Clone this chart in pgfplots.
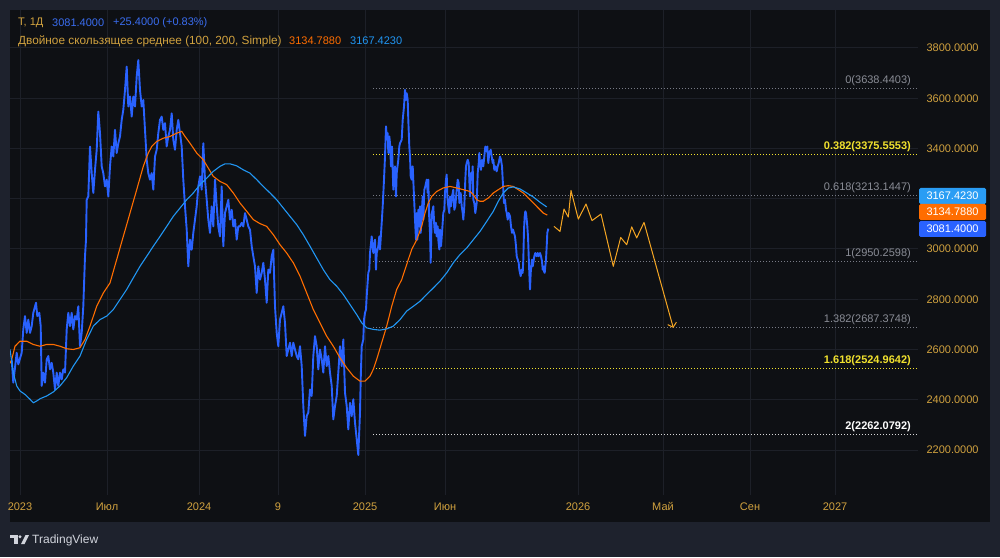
\documentclass[border=0pt]{standalone}
\usepackage{pgfplots}
\pgfplotsset{compat=1.18}
\usepackage{fontspec}
\setmainfont{Liberation Sans}
\usetikzlibrary{arrows.meta}
\definecolor{outerbg}{HTML}{1E222D}
\definecolor{panelbg}{HTML}{0E1014}
\definecolor{gridc}{HTML}{1D2028}
\definecolor{gold}{HTML}{D1A23F}
\definecolor{hdrblue}{HTML}{3A6DF0}
\definecolor{tvblue}{HTML}{2962FF}
\definecolor{maone}{HTML}{FF6D00}
\definecolor{matwo}{HTML}{2196F3}
\definecolor{tagblue}{HTML}{2A9DF4}
\definecolor{fc}{HTML}{F5A623}
\definecolor{fibgrey}{HTML}{8A8D96}
\definecolor{fibline}{HTML}{787B86}
\definecolor{fibyel}{HTML}{F2E22E}
\definecolor{logoc}{HTML}{D1D4DC}
\newcommand{\fsz}{\fontsize{11}{13}\selectfont}

\begin{document}
\begin{tikzpicture}
\useasboundingbox (0pt,0pt) rectangle (1000pt,557pt);
\fill[outerbg] (0pt,0pt) rectangle (1000pt,557pt);
\fill[panelbg] (10pt,35pt) rectangle (990pt,547pt);
\begin{axis}[
  at={(10pt,62pt)}, anchor=south west,
  scale only axis, width=908pt, height=485pt,
  xmin=10, xmax=918, ymin=2020.9, ymax=3951.2,
  axis line style={draw=none}, major tick length=0pt,
  grid=major, major grid style={gridc, line width=1pt},
  xtick={20,107,199,278,365,445,578,663,750,835},
  xticklabels={2023,Июл,2024,9,2025,Июн,2026,Май,Сен,2027},
  xticklabel style={font=\fsz, text=gold, yshift=-4pt},
  ytick={2200,2400,2600,2800,3000,3400,3600,3800},
  extra y ticks={3200}, extra y tick labels={},
  extra y tick style={grid=major, major grid style={gridc, line width=1pt}},
  yticklabel pos=right, scaled y ticks=false,
  yticklabel style={font=\fsz, text=gold, anchor=west, xshift=5pt,
    /pgf/number format/fixed, /pgf/number format/fixed zerofill,
    /pgf/number format/precision=4, /pgf/number format/1000 sep={},
    /pgf/number format/assume math mode=true},
]
% Fibonacci levels
\addplot[fibline, line width=1pt, dash pattern=on 1pt off 2pt] coordinates {(373,3638.4403) (918,3638.4403)};
\addplot[fibyel, line width=1pt, dash pattern=on 1pt off 2pt] coordinates {(373,3375.5553) (918,3375.5553)};
\addplot[fibline, line width=1pt, dash pattern=on 1pt off 2pt] coordinates {(373,3213.1447) (918,3213.1447)};
\addplot[fibline, line width=1pt, dash pattern=on 1pt off 2pt] coordinates {(373,2950.2598) (918,2950.2598)};
\addplot[fibline, line width=1pt, dash pattern=on 1pt off 2pt] coordinates {(373,2687.3748) (918,2687.3748)};
\addplot[fibyel, line width=1pt, dash pattern=on 1pt off 2pt] coordinates {(373,2524.9642) (918,2524.9642)};
\addplot[white!85!black, line width=1pt, dash pattern=on 1pt off 2pt] coordinates {(373,2262.0792) (918,2262.0792)};
% price
\addplot[tvblue, line width=1.9pt, line join=round] coordinates {
(11.7,2560)(13.3,2468)(16.7,2587)(18.3,2541)(21.7,2587)(23.3,2680)(25,2733)(26.7,2666)(28.3,2719)(30,2666)(31.7,2693)(33.3,2746)(36,2786)(37.3,2733)(39.3,2746)(40.7,2693)(41.7,2455)(43.3,2508)(45,2468)(46.7,2560)(48.3,2574)(50,2521)(51.7,2547)(53.3,2508)(55,2441)(56.7,2508)(58.3,2455)(60,2508)(61.7,2481)(63.3,2521)(65,2508)(66.7,2680)(68.3,2746)(70,2693)(71.7,2746)(73.3,2680)(75,2733)(76.7,2719)(78.3,2772)(80,2613)(81.7,2666)(83.3,2772)(85,2971)(86,3037)(86.7,3196)(88.3,3209)(90,3408)(91.7,3302)(93.3,3223)(95,3315)(96.7,3395)(98.3,3547)(100,3461)(101.7,3329)(103.3,3302)(105,3249)(106.7,3276)(108.3,3209)(110,3329)(111.7,3408)(113.3,3368)(115,3474)(116.7,3382)(118.3,3421)(120,3448)(121.7,3514)(123.3,3554)(125,3633)(126.7,3726)(128.3,3567)(130,3607)(131.7,3527)(133.3,3607)(135,3567)(136.7,3686)(138.3,3752)(140,3633)(141.7,3567)(143.3,3593)(145,3474)(146.7,3355)(148.3,3302)(150,3276)(151.7,3302)(153.3,3236)(155,3368)(156.7,3395)(158.3,3461)(160,3514)(161.7,3527)(163.3,3474)(165,3501)(166.7,3408)(168.3,3448)(170,3474)(171.7,3540)(173.3,3435)(175,3395)(176.7,3474)(178.3,3514)(180,3461)(181.7,3408)(183.3,3276)(185,3170)(186.7,3077)(188.3,2931)(190,3037)(191.7,2997)(193.3,3064)(195,3117)(196.7,3170)(198.3,3249)(200,3289)(201.7,3236)(203.3,3421)(205,3276)(206.7,3196)(208.3,3117)(210,3064)(211.7,3170)(213.3,3090)(215,3276)(216.7,3170)(218.3,3090)(220,3050)(221.7,3249)(223.3,3011)(225,3143)(226.7,3170)(228.3,3196)(230,3117)(231.7,3156)(233.3,3090)(235,3117)(236.7,3037)(238.3,3090)(240,3090)(241.7,3104)(243.3,3090)(245,3143)(246.7,3117)(248.3,3090)(250,3077)(251.7,3011)(253.3,2971)(255,2931)(256.7,2825)(258.3,2931)(260,2878)(261.7,2905)(263.3,2945)(265,2878)(266.7,2786)(268.3,2918)(270,2905)(271.7,2971)(273.3,2997)(275,2772)(276.7,2666)(278.3,2613)(280,2719)(281.7,2746)(283.3,2772)(285,2706)(286.7,2574)(288.3,2600)(290,2627)(291.7,2574)(293.3,2627)(295,2600)(296.7,2574)(298.3,2561)(300,2613)(301.7,2534)(303.3,2375)(305,2256)(306.7,2335)(308.3,2349)(310,2441)(311.7,2415)(313.3,2574)(315,2653)(316.7,2613)(318.3,2521)(320,2600)(321.7,2561)(323.3,2508)(325,2613)(326.7,2534)(328.3,2574)(330,2508)(331.7,2455)(333.3,2322)(335,2375)(336.7,2415)(338.3,2508)(340,2613)(341.7,2534)(343.3,2640)(345,2428)(346.7,2375)(348.3,2282)(350,2388)(351.7,2335)(353.3,2402)(355,2309)(356.7,2243)(358.3,2180)(360,2349)(360.7,2481)(361.7,2613)(363.3,2640)(364,2719)(365,2746)(366,2759)(366.7,2812)(368.3,2905)(369.3,2918)(370,2984)(371.7,3050)(373.3,2984)(375,3037)(376,2918)(376.7,2984)
(378.3,3011)(379.3,3050)(380,2998)(381.7,3104)(382.7,3170)(384,3276)(385,3368)(386,3488)(386.7,3448)(387.7,3461)(388.3,3382)(389.3,3448)(390,3421)(391,3329)(392,3408)(393.3,3236)(395,3329)(396,3209)(396.7,3302)(398.3,3355)(399.3,3408)(400,3421)(401.7,3435)(402.7,3514)(404,3567)(405,3633)(406,3593)(406.7,3620)(407.7,3593)(408.3,3514)(409.3,3408)(410,3368)(410.7,3289)(411.7,3276)(412.7,3329)(414,3209)(415,3117)(416,3037)(416.7,3143)(417.3,3037)(418.3,3156)(419.3,3090)(420,3170)(420.7,3064)(421.7,3143)(422.7,3209)(423.3,3117)(424.3,3236)(425.3,3249)(426.7,3276)(427.7,3223)(428.3,3276)(429,3143)(430,3064)(430.7,2945)(431.7,3143)(432.7,3156)(433.3,3170)(434.3,3090)(435,3064)(436,3104)(436.7,3050)(437.7,3090)(438.3,3037)(439.3,2998)(440,3077)(441,3011)(442,3064)(443.3,3143)(444.3,3156)(445,3223)(446,3276)(446.7,3296)(447.3,3209)(448.3,3170)(449.3,3143)(450,3209)(451,3170)(452,3209)(453.3,3236)(454.3,3156)(455.3,3170)(456.7,3236)(457.7,3276)(458.7,3262)(459.3,3183)(460.7,3223)(461.7,3170)(462.7,3143)(463.3,3117)(464.3,3170)(465.3,3276)(466,3329)(466.7,3342)(467.7,3355)(468.7,3342)(469.3,3276)(470,3209)(471,3302)(472,3276)(472.7,3329)(473.3,3196)(474.3,3183)(475.3,3143)(476.7,3183)(477.7,3302)(478.7,3342)(479.3,3382)(480,3342)(481,3315)(482,3355)(483.3,3329)(484.3,3368)(485.3,3408)(486,3395)(486.7,3388)(487.3,3408)(488.3,3342)(489.3,3382)(490.7,3395)(491.7,3368)(492.7,3342)(493.3,3355)(494.3,3315)(495.3,3329)(496.7,3309)(497.7,3329)(498.7,3342)(500,3368)(501,3355)(502,3329)(502.7,3276)(503.3,3236)(504,3183)(505,3196)(506,3156)(506.7,3143)(507.7,3117)(508.7,3143)(510,3130)(511,3090)(512,3064)(513,3077)(514,3064)(515,3050)(516,3011)(516.7,2971)(517.7,2958)(518.7,2945)(519.3,2918)(520,2905)(520.7,2892)(521.7,2918)(522.7,2905)(523.3,2958)(524,3077)(524.7,3130)(525.3,3150)(526,3143)(526.7,3117)(527.3,3090)(528,3050)(528.7,2971)(529.3,2905)(530,2839)(530.7,2905)(531.3,2931)(532,2958)(532.7,2931)(533.3,2945)(534.3,2971)(535.3,2984)(536.7,2971)(537.7,2984)(538.7,2971)(540,2984)(541,2971)(542,2951)(542.7,2918)(543.3,2931)(544,2911)(544.7,2905)(545.3,2931)(546,2958)(546.7,3011)(547.3,3064)(548.3,3081)
};
% MA 100
\addplot[maone, line width=1.1pt] coordinates {
(10,2545)(11.7,2560)(15,2613)(20,2633)(26.7,2633)(33.3,2620)(40,2613)(46.7,2620)(53.3,2620)(60,2613)(66.7,2603)(73.3,2600)(80,2607)(85,2640)(90,2693)(96.7,2772)(103.3,2825)(110,2865)(116.7,2958)(123.3,3050)(130,3143)(136.7,3236)(143.3,3329)(148.3,3382)(151.7,3408)(156.7,3428)(163.3,3441)(170,3448)(176.7,3461)(181.7,3468)(185,3448)(190,3421)(196.7,3382)(203.3,3355)(208.3,3322)(213.3,3289)(220,3269)(226.7,3256)(233.3,3223)(240,3183)(246.7,3150)(253.3,3117)(260,3101)(266.7,3090)(273.3,3057)(280,3017)(286.7,2984)(293.3,2945)(300,2892)(306.7,2825)(313.3,2759)(320,2706)(326.7,2653)(333.3,2613)(340,2567)(346.7,2527)(353.3,2494)(360,2474)(365,2474)(370,2494)(373.3,2521)(376.7,2561)(381.7,2627)(386.7,2693)(391.7,2772)(396.7,2839)(401.7,2878)(405,2918)(408.3,2958)(411.7,2998)(416.7,3037)(421.7,3090)(425,3143)(428.3,3183)(431.7,3209)(436.7,3229)(443.3,3243)(450,3249)(456.7,3243)(463.3,3236)(470,3229)(473.3,3216)(476.7,3196)(480,3190)(483.3,3190)(488.3,3203)(493.3,3223)(498.3,3236)(503.3,3249)(508.3,3252)(513.3,3249)(518.3,3236)(523.3,3223)(528.3,3203)(533.3,3183)(538.3,3163)(543.3,3143)(547.3,3134.8)
};
% MA 200
\addplot[matwo, line width=1.1pt] coordinates {
(10,2600)(13.3,2508)(16.7,2455)(20,2435)(25,2421)(30,2402)(33.3,2388)(36.7,2395)(40,2404)(46.7,2415)(53.3,2431)(60,2455)(66.7,2488)(73.3,2534)(80,2574)(86.7,2640)(93.3,2693)(100,2719)(106.7,2733)(113.3,2759)(120,2799)(126.7,2839)(133.3,2885)(140,2931)(146.7,2971)(153.3,3011)(160,3050)(166.7,3090)(173.3,3130)(180,3163)(186.7,3196)(193.3,3223)(200,3256)(206.7,3282)(213.3,3309)(220,3329)(225,3339)(230,3339)(236.7,3331)(243.3,3315)(250,3302)(256.7,3276)(263.3,3249)(270,3223)(276.7,3196)(283.3,3163)(290,3130)(296.7,3097)(303.3,3057)(310,3011)(316.7,2964)(323.3,2918)(330,2878)(336.7,2852)(343.3,2819)(350,2779)(356.7,2739)(361.7,2706)(366.7,2686)(373.3,2680)(380,2677)(386.7,2682)(393.3,2693)(400,2719)(406.7,2753)(413.3,2772)(420,2792)(426.7,2819)(433.3,2845)(440,2872)(446.7,2905)(453.3,2945)(460,2978)(466.7,3004)(473.3,3037)(480,3070)(486.7,3110)(493.3,3150)(498.3,3190)(503.3,3223)(508.3,3243)(513.3,3247)(520,3239)(526.7,3223)(533.3,3207)(540,3186)(546.7,3167.4)
};
% forecast path
\addplot[fc, line width=1pt, line join=round, -{Straight Barb[length=4pt,width=9pt]}] coordinates {
(554,3090)(560,3070)(564,3159)(568.3,3127)(571,3233)(578.3,3119)(586,3179)(592,3113)(601,3139)(613.3,2931)(620.7,3046)(626.7,3017)(631.7,3088)(636.7,3044)(644,3106)(673.3,2686)
};
% Fibonacci labels
\node[anchor=base east, text=fibgrey, font=\fsz, yshift=5pt, inner sep=0pt] at (axis cs:911,3638.4403) {0(3638.4403)};
\node[anchor=base east, text=fibyel, font=\fsz\bfseries, yshift=5pt, inner sep=0pt] at (axis cs:911,3375.5553) {0.382(3375.5553)};
\node[anchor=base east, text=fibgrey, font=\fsz, yshift=5pt, inner sep=0pt] at (axis cs:911,3213.1447) {0.618(3213.1447)};
\node[anchor=base east, text=fibgrey, font=\fsz, yshift=5pt, inner sep=0pt] at (axis cs:911,2950.2598) {1(2950.2598)};
\node[anchor=base east, text=fibgrey, font=\fsz, yshift=5pt, inner sep=0pt] at (axis cs:911,2687.3748) {1.382(2687.3748)};
\node[anchor=base east, text=fibyel, font=\fsz\bfseries, yshift=5pt, inner sep=0pt] at (axis cs:911,2524.9642) {1.618(2524.9642)};
\node[anchor=base east, text=white, font=\fsz\bfseries, yshift=5pt, inner sep=0pt] at (axis cs:911,2262.0792) {2(2262.0792)};
\end{axis}
% price tags
\fill[tagblue, rounded corners=1.5pt] (919pt,353pt) rectangle (986pt,369pt);
\node[text=white, font=\fsz] at (952.5pt,361pt) {3167.4230};
\fill[maone, rounded corners=1.5pt] (919pt,337pt) rectangle (986pt,353pt);
\node[text=white, font=\fsz] at (952.5pt,345pt) {3134.7880};
\fill[tvblue, rounded corners=1.5pt] (919pt,320pt) rectangle (986pt,336pt);
\node[text=white, font=\fsz] at (952.5pt,328pt) {3081.4000};
% header
\node[anchor=west, inner sep=0pt, text=gold, font=\fsz] at (18pt,534pt) {Т, 1Д};
\node[anchor=west, inner sep=0pt, text=hdrblue, font=\fsz] at (52pt,534pt) {3081.4000};
\node[anchor=west, inner sep=0pt, text=hdrblue, font=\fsz] at (113pt,534pt) {+25.4000 (+0.83\%)};
\node[anchor=west, inner sep=0pt, text=gold, font=\fontsize{11.8}{13}\selectfont] at (18pt,516pt) {Двойное скользящее среднее (100, 200, Simple)};
\node[anchor=west, inner sep=0pt, text=maone, font=\fsz] at (289pt,516pt) {3134.7880};
\node[anchor=west, inner sep=0pt, text=matwo, font=\fsz] at (350pt,516pt) {3167.4230};
% TradingView logo
\fill[logoc] (10pt,19pt) rectangle (17.5pt,22pt);
\fill[logoc] (14pt,13pt) rectangle (17.5pt,22pt);
\fill[logoc] (20pt,20.2pt) circle (1.6pt);
\fill[logoc] (21pt,13pt) -- (24.5pt,13pt) -- (29pt,22pt) -- (25.5pt,22pt) -- cycle;
\node[anchor=west, inner sep=0pt, text=logoc, font=\fontsize{12}{14}\selectfont] at (32pt,17pt) {TradingView};
\end{tikzpicture}
\end{document}
